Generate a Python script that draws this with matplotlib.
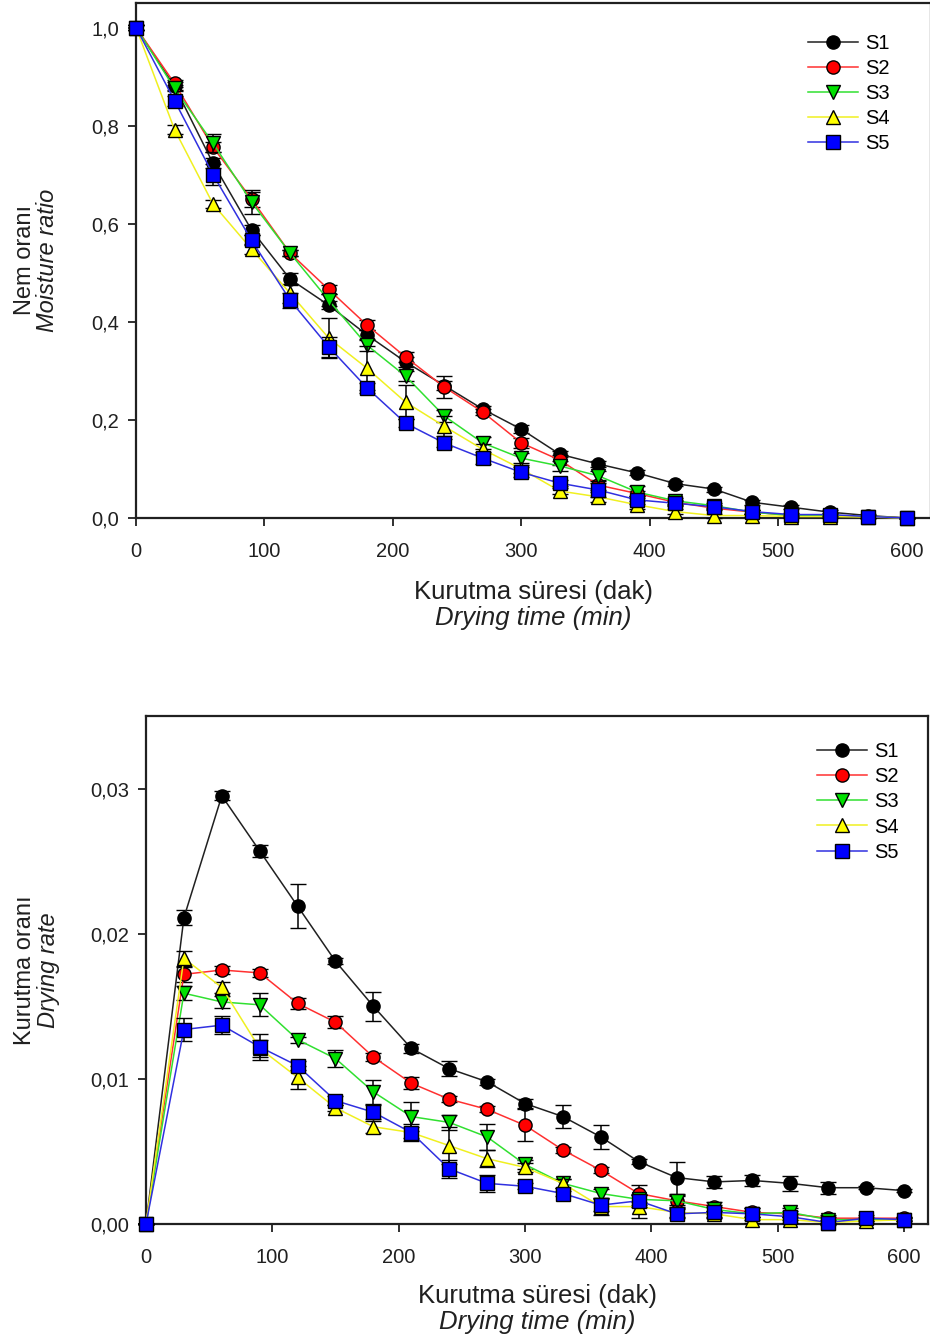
import numpy as np
import matplotlib
matplotlib.use("Agg")
import matplotlib.pyplot as plt
from matplotlib.ticker import FuncFormatter

plt.rcParams['font.family'] = ['Liberation Sans', 'DejaVu Sans']

# ============================================================
# data
# ============================================================
time_min = [0, 30, 60, 90, 120, 150, 180, 210, 240, 270, 300,
            330, 360, 390, 420, 450, 480, 510, 540, 570, 600]
series_names = ["S1", "S2", "S3", "S4", "S5"]

# moisture ratio
mr_s1 = [1.0, 0.880, 0.723, 0.587, 0.487, 0.434, 0.373, 0.318, 0.270, 0.222, 0.181,
         0.130, 0.110, 0.092, 0.070, 0.059, 0.032, 0.022, 0.012, 0.005, 0.0]
mr_s2 = [1.0, 0.886, 0.756, 0.650, 0.540, 0.466, 0.393, 0.328, 0.267, 0.216, 0.153,
         0.118, 0.067, 0.050, 0.032, 0.020, 0.012, 0.005, 0.005, 0.003, 0.0]
mr_s3 = [1.0, 0.876, 0.764, 0.644, 0.540, 0.444, 0.352, 0.289, 0.208, 0.153, 0.122,
         0.106, 0.086, 0.053, 0.035, 0.025, 0.012, 0.005, 0.005, 0.003, 0.0]
mr_s4 = [1.0, 0.792, 0.640, 0.548, 0.458, 0.367, 0.305, 0.236, 0.187, 0.140, 0.100,
         0.055, 0.043, 0.027, 0.013, 0.005, 0.005, 0.003, 0.003, 0.002, 0.0]
mr_s5 = [1.0, 0.851, 0.700, 0.566, 0.444, 0.349, 0.265, 0.193, 0.153, 0.122, 0.093,
         0.071, 0.057, 0.037, 0.030, 0.023, 0.013, 0.007, 0.007, 0.003, 0.0]

mr_err_s1 = [0.005, 0.008, 0.010, 0.010, 0.012, 0.008, 0.010, 0.010, 0.010, 0.006, 0.008,
             0.006, 0.006, 0.005, 0.005, 0.005, 0.005, 0.004, 0.004, 0.003, 0.0]
mr_err_s2 = [0.005, 0.008, 0.010, 0.015, 0.006, 0.010, 0.010, 0.010, 0.022, 0.006, 0.010,
             0.010, 0.010, 0.005, 0.005, 0.004, 0.004, 0.003, 0.003, 0.002, 0.0]
mr_err_s3 = [0.005, 0.006, 0.018, 0.025, 0.006, 0.012, 0.012, 0.010, 0.012, 0.012, 0.010,
             0.010, 0.010, 0.012, 0.006, 0.005, 0.004, 0.003, 0.003, 0.002, 0.0]
mr_err_s4 = [0.005, 0.010, 0.008, 0.010, 0.020, 0.040, 0.045, 0.035, 0.020, 0.010, 0.008,
             0.006, 0.010, 0.008, 0.005, 0.004, 0.003, 0.003, 0.002, 0.002, 0.0]
mr_err_s5 = [0.005, 0.010, 0.022, 0.010, 0.015, 0.020, 0.010, 0.008, 0.008, 0.012, 0.010,
             0.006, 0.015, 0.008, 0.005, 0.004, 0.004, 0.003, 0.003, 0.002, 0.0]

# drying rate
dr_s1 = [0, 0.0211, 0.0295, 0.0257, 0.0219, 0.0181, 0.0150, 0.0121, 0.0107, 0.0098, 0.0083,
         0.0074, 0.0060, 0.0043, 0.0032, 0.0029, 0.0030, 0.0028, 0.0025, 0.0025, 0.0023]
dr_s2 = [0, 0.0172, 0.0175, 0.0173, 0.0152, 0.0139, 0.0115, 0.0097, 0.0086, 0.0079, 0.0068,
         0.0051, 0.0037, 0.0021, 0.0016, 0.0012, 0.0008, 0.0007, 0.0004, 0.0004, 0.0004]
dr_s3 = [0, 0.0159, 0.0153, 0.0151, 0.0127, 0.0114, 0.0091, 0.0074, 0.0070, 0.0060, 0.0041,
         0.0028, 0.0021, 0.0017, 0.0016, 0.0010, 0.0007, 0.0008, 0.0003, 0.0003, 0.0003]
dr_s4 = [0, 0.0183, 0.0163, 0.0121, 0.0101, 0.0080, 0.0067, 0.0063, 0.0054, 0.0045, 0.0039,
         0.0028, 0.0012, 0.0012, 0.0008, 0.0007, 0.0003, 0.0003, 0.0001, 0.0002, 0.0003]
dr_s5 = [0, 0.0134, 0.0137, 0.0122, 0.0109, 0.0085, 0.0077, 0.0063, 0.0038, 0.0028, 0.0026,
         0.0021, 0.0013, 0.0016, 0.0007, 0.0008, 0.0007, 0.0005, 0.0001, 0.0004, 0.0003]

dr_err_s1 = [0, 0.0005, 0.0003, 0.0004, 0.0015, 0.0002, 0.0010, 0.0003, 0.0005, 0.0002, 0.0003,
             0.0008, 0.0008, 0.0002, 0.0011, 0.0004, 0.0004, 0.0005, 0.0004, 0.0001, 0.0001]
dr_err_s2 = [0, 0.0005, 0.0003, 0.0003, 0.0004, 0.0004, 0.0003, 0.0004, 0.0002, 0.0002, 0.0011,
             0.0002, 0.0002, 0.0006, 0.0004, 0.0003, 0.0003, 0.0002, 0.0002, 0.0001, 0.0001]
dr_err_s3 = [0, 0.0005, 0.0004, 0.0008, 0.0002, 0.0006, 0.0008, 0.0010, 0.0005, 0.0009, 0.0003,
             0.0003, 0.0003, 0.0004, 0.0003, 0.0003, 0.0002, 0.0003, 0.0002, 0.0001, 0.0001]
dr_err_s4 = [0, 0.0005, 0.0004, 0.0006, 0.0008, 0.0002, 0.0004, 0.0004, 0.0013, 0.0006, 0.0003,
             0.0003, 0.0006, 0.0008, 0.0003, 0.0002, 0.0002, 0.0002, 0.0001, 0.0001, 0.0001]
dr_err_s5 = [0, 0.0008, 0.0006, 0.0009, 0.0003, 0.0003, 0.0005, 0.0006, 0.0006, 0.0006, 0.0002,
             0.0002, 0.0004, 0.0004, 0.0003, 0.0004, 0.0004, 0.0002, 0.0002, 0.0002, 0.0002]

mr_vals = [mr_s1, mr_s2, mr_s3, mr_s4, mr_s5]
mr_errs = [mr_err_s1, mr_err_s2, mr_err_s3, mr_err_s4, mr_err_s5]
dr_vals = [dr_s1, dr_s2, dr_s3, dr_s4, dr_s5]
dr_errs = [dr_err_s1, dr_err_s2, dr_err_s3, dr_err_s4, dr_err_s5]

colors = ["black", "#ff0000", "#00e000", "#ffff00", "#0000ff"]
line_colors = ["#202020", "#ff3030", "#30e030", "#f0f020", "#3030e0"]
markers = ["o", "o", "v", "^", "s"]

# ============================================================
# figure
# ============================================================
W, H = 930, 1339
fig = plt.figure(figsize=(W / 100, H / 100), dpi=100)


def px_axes(l, t, r, b):
    return [l / W, 1 - b / H, (r - l) / W, (b - t) / H]


ax1 = fig.add_axes(px_axes(136, 3, 931, 518))
ax2 = fig.add_axes(px_axes(146, 716, 928, 1224))


def draw(ax, vals, errs):
    handles = []
    for i in range(5):
        cont = ax.errorbar(time_min, vals[i], yerr=errs[i], color=line_colors[i],
                           lw=1.1, marker=markers[i], markersize=9.5,
                           markerfacecolor=colors[i], markeredgecolor="black",
                           markeredgewidth=1.0, ecolor="black", elinewidth=1.1,
                           capsize=5.5, capthick=1.1, clip_on=False, zorder=3 + i)
        for a in cont.lines[1]:
            a.set_clip_on(False)
        for a in cont.lines[2]:
            a.set_clip_on(False)
        handles.append(cont[0])
    for s in ax.spines.values():
        s.set_linewidth(1.6)
        s.set_color("#202020")
    ax.tick_params(direction="out", length=6, width=1.3, labelsize=14.5,
                   colors="#202020", pad=6)
    ax.tick_params(axis="x", pad=11)
    ax.set_xlim(0, 619)
    ax.set_xticks([0, 100, 200, 300, 400, 500, 600])
    return handles


h1 = draw(ax1, mr_vals, mr_errs)
ax1.set_ylim(0, 1.05)
ax1.set_yticks([0, 0.2, 0.4, 0.6, 0.8, 1.0])
ax1.yaxis.set_major_formatter(FuncFormatter(lambda v, p: f"{v:.1f}".replace(".", ",")))
ax1.legend(h1, series_names, loc="upper left", bbox_to_anchor=(0.845, 0.94),
           frameon=False, fontsize=14.5, handlelength=2.5, handletextpad=0.35,
           labelspacing=0.3, borderpad=0, borderaxespad=0)

h2 = draw(ax2, dr_vals, dr_errs)
ax2.set_ylim(0, 0.035)
ax2.set_yticks([0, 0.01, 0.02, 0.03])
ax2.yaxis.set_major_formatter(FuncFormatter(lambda v, p: f"{v:.2f}".replace(".", ",")))
ax2.legend(h2, series_names, loc="upper left", bbox_to_anchor=(0.858, 0.948),
           frameon=False, fontsize=14.5, handlelength=2.5, handletextpad=0.35,
           labelspacing=0.3, borderpad=0, borderaxespad=0)


def ftxt(x, y, s, **kw):
    fig.text(x / W, 1 - y / H, s, ha="center", va="center", color="#202020", **kw)


# axis labels (two languages)
ftxt(533, 592, "Kurutma süresi (dak)", fontsize=18.5)
ftxt(533, 618, "Drying time (min)", fontsize=18.5, style="italic")
ftxt(25, 260, "Nem oranı", fontsize=17, rotation=90)
ftxt(48, 260, "Moisture ratio", fontsize=17, rotation=90, style="italic")

ftxt(537, 1296, "Kurutma süresi (dak)", fontsize=18.5)
ftxt(537, 1322, "Drying time (min)", fontsize=18.5, style="italic")
ftxt(25, 970, "Kurutma oranı", fontsize=17, rotation=90)
ftxt(48, 970, "Drying rate", fontsize=17, rotation=90, style="italic")

plt.savefig("out.png", dpi=100)
